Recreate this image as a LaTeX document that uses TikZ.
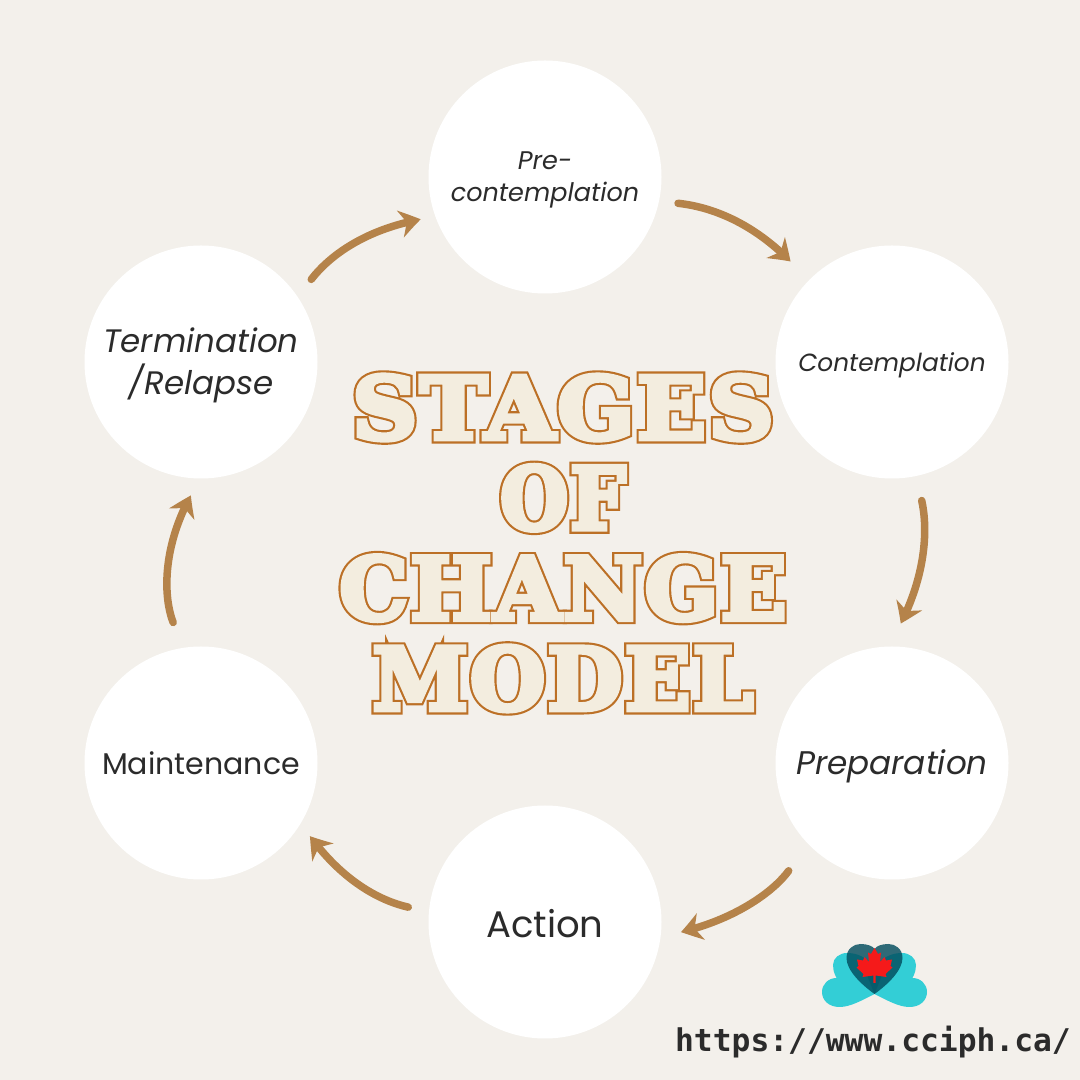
\documentclass[tikz,border=0pt]{standalone}
\usepackage{fontspec}
\usepackage{tikz}
\usetikzlibrary{arrows.meta, bending}
\setmainfont{Poppins}
\newfontfamily\titlecore[FakeBold=6, LetterSpace=3]{DejaVu Serif Bold}
\newfontfamily\titleedge[FakeBold=11, LetterSpace=3]{DejaVu Serif Bold}
\newfontfamily\urlfont{DejaVu Sans Mono Bold}
\newcommand\titlerows{{\addfontfeature{FakeStretch=1.05}STAGES}\\{\addfontfeature{FakeStretch=0.9}OF}\\{\addfontfeature{FakeStretch=1.0}CHANGE}\\{\addfontfeature{FakeStretch=1.0}MODEL}}
\definecolor{pageBack}{HTML}{F3F0EB}
\definecolor{inkBlack}{HTML}{2B2B2B}
\definecolor{arrowBrown}{HTML}{B5834A}
\definecolor{titleFill}{HTML}{F3EDDF}
\definecolor{titleEdge}{HTML}{BC7026}
\definecolor{wingTeal}{HTML}{33CED6}
\definecolor{heartDark}{HTML}{014C5D}
\definecolor{leafRed}{HTML}{F51A1A}
\tikzset{
    stagecircle/.style={circle, fill=white, minimum size=233pt, inner sep=0pt},
    stagelabel/.style={inner sep=0pt, text=inkBlack, align=center},
    flowarrow/.style={-{Stealth[length=22pt, width=27pt, inset=7pt, bend]}, line width=7.5pt, arrowBrown, line cap=round},
    titleline/.style={inner sep=0pt, align=center}
}
\begin{document}
\begin{tikzpicture}[x=1pt, y=1pt]
    \useasboundingbox (0,0) rectangle (1080,1080);
    \fill[pageBack] (0,0) rectangle (1080,1080);

    % stages
    \node[stagecircle] (pre) at (545,903) {};
    \node[stagecircle] (con) at (892,718) {};
    \node[stagecircle] (prep) at (892,317) {};
    \node[stagecircle] (act) at (545,158) {};
    \node[stagecircle] (main) at (201,317) {};
    \node[stagecircle] (term) at (201,718) {};

    \node[stagelabel, font=\fontsize{25.5}{32}\selectfont\itshape] (prelabel) at ([yshift=-3pt]pre) {Pre-\\contemplation};
    \node[stagelabel, font=\fontsize{24.8}{30}\selectfont\itshape] (conlabel) at ([yshift=-3pt]con) {Contemplation};
    \node[stagelabel, font=\fontsize{32.7}{36}\selectfont\itshape] (preplabel) at ([yshift=-3pt]prep) {Preparation};
    \node[stagelabel, font=\fontsize{37}{40}\selectfont] (actlabel) at ([yshift=-2pt]act) {Action};
    \node[stagelabel, font=\fontsize{30}{36}\selectfont] (mainlabel) at (main) {Maintenance};
    \node[stagelabel, font=\fontsize{32.5}{42}\selectfont\itshape] (termlabel) at ([yshift=-3pt]term) {Termination\\/Relapse};

    % arrows
    \draw[flowarrow, shorten <=19pt, shorten >=27pt] (pre.-12) to[bend left=22] (con.136);
    \draw[flowarrow, shorten <=25pt, shorten >=27pt] (con.-78) to[bend left=22] (prep.92);
    \draw[flowarrow, shorten <=33pt, shorten >=21pt] (prep.-136) to[bend left=22] (act.-7.5);
    \draw[flowarrow, shorten <=21pt, shorten >=16pt] (act.175) to[bend left=22] (main.-31);
    \draw[flowarrow, shorten <=27pt, shorten >=20pt] (main.99) to[bend left=27] (term.-90);
    \draw[flowarrow, shorten <=22pt, shorten >=15pt] (term.34) to[bend left=22] (pre.-160);

    % title
    \node[titleline, text=titleEdge, font=\fontsize{86}{90.3}\selectfont\titleedge] (titleback) at (563,537) {\titlerows};
    \node[titleline, text=titleFill, font=\fontsize{86}{90.3}\selectfont\titlecore] (title) at (563,537) {\titlerows};

    % logo
    \begin{scope}[shift={(874.5,86)}]
        \fill[wingTeal] (0,0) .. controls (-12,-6) and (-24,-13) .. (-35,-13) .. controls (-46,-13) and (-52.5,-6) .. (-52.5,2)
            .. controls (-52.5,10) and (-46,16) .. (-38,16) .. controls (-41,22) and (-41.5,25) .. (-41.5,29)
            .. controls (-41.5,36) and (-35,41) .. (-27.5,41) .. controls (-18,41) and (-8,38) .. (5,22) -- cycle;
        \fill[wingTeal] (0,0) .. controls (12,-6) and (24,-13) .. (35,-13) .. controls (46,-13) and (52.5,-6) .. (52.5,2)
            .. controls (52.5,10) and (46,16) .. (38,16) .. controls (41,22) and (41.5,25) .. (41.5,29)
            .. controls (41.5,36) and (35,41) .. (27.5,41) .. controls (18,41) and (8,38) .. (-5,22) -- cycle;
        \fill[heartDark, opacity=0.81] (0,0) .. controls (-14,10) and (-28,24) .. (-28,36) .. controls (-28,45) and (-21,50) .. (-14,50)
            .. controls (-7,50) and (-2,48) .. (0,45) .. controls (2,48) and (7,50) .. (14,50)
            .. controls (21,50) and (28,45) .. (28,36) .. controls (28,24) and (14,10) .. (0,0) -- cycle;
        \fill[heartDark, opacity=0.3] (0,0) -- (-8,20) -- (8,20) -- cycle;
        \fill[leafRed] (0,46) -- (3.5,40) -- (6.5,41.5) -- (5.5,32) -- (10,37) -- (11.5,33.5) -- (17.5,34.5) -- (16,28) -- (18,26.5)
            -- (11,20) -- (12,17) -- (1.2,18.5) -- (1.2,11) -- (-1.2,11) -- (-1.2,18.5) -- (-12,17) -- (-11,20) -- (-18,26.5)
            -- (-16,28) -- (-17.5,34.5) -- (-11.5,33.5) -- (-10,37) -- (-5.5,32) -- (-6.5,41.5) -- (-3.5,40) -- cycle;
    \end{scope}

    % address
    \node[inner sep=0pt, text=inkBlack, font=\fontsize{31.3}{34}\selectfont\urlfont] (url) at (873,38) {https://www.cciph.ca/};
\end{tikzpicture}
\end{document}
